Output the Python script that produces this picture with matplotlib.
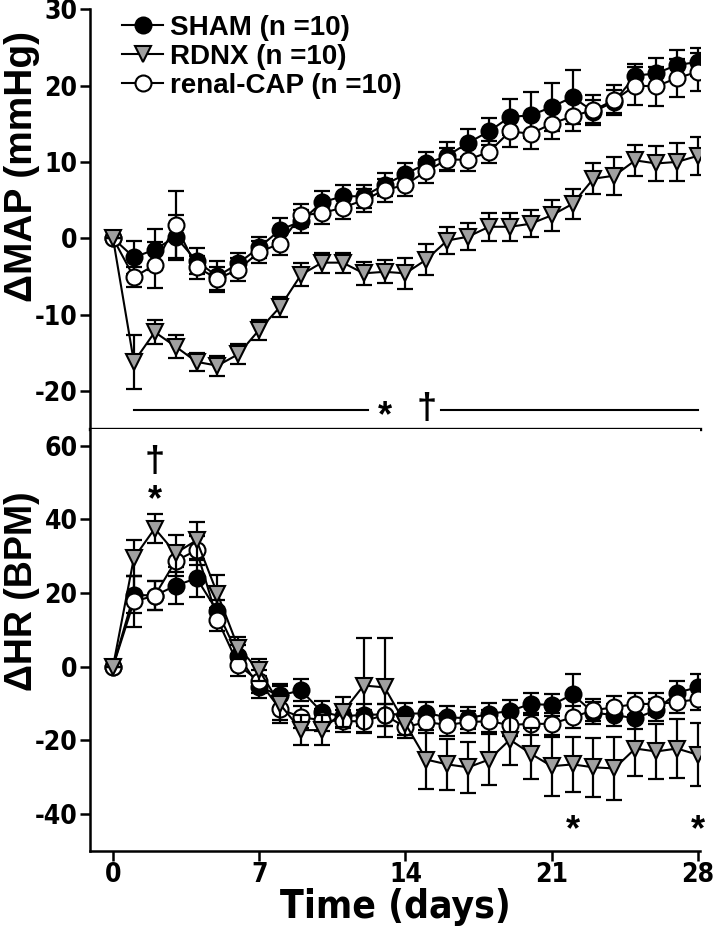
import matplotlib
matplotlib.use("Agg")
import matplotlib.pyplot as plt
from matplotlib import font_manager
import numpy as np

plt.rcParams["axes.unicode_minus"] = False

WIDE = ["Liberation Sans", "DejaVu Sans"]
# condensed face for ticks / x label, if one is installed
_fonts = font_manager.fontManager.ttflist
if any(f.name == "Liberation Sans Narrow" for f in _fonts):
    NARROW = dict(family=["Liberation Sans Narrow", "Liberation Sans"], stretch="normal")
elif any(f.name == "DejaVu Sans" and str(f.stretch) in ("condensed", "semi-condensed") for f in _fonts):
    NARROW = dict(family=["DejaVu Sans"], stretch="condensed")
else:
    NARROW = dict(family=WIDE, stretch="normal")

days = np.arange(29)

# delta MAP (mmHg)
map_sham = [0, -2.5, -1.5, 0.2, -3.0, -5.0, -3.3, -1.2, 1.1, 2.2, 4.7, 5.5, 5.5, 7.0, 8.4,
            9.8, 10.8, 12.5, 14.0, 15.9, 16.1, 17.2, 18.5, 16.6, 17.9, 21.3, 21.6, 22.7, 23.1]
map_sham_sem = [0, 2.2, 2.7, 2.8, 1.7, 2.0, 1.4, 1.4, 1.5, 1.5, 1.5, 1.5, 1.5, 1.5, 1.5,
                1.5, 1.8, 1.8, 1.8, 2.4, 3.0, 3.2, 3.5, 1.5, 1.5, 1.5, 2.0, 2.0, 1.8]
map_rdnx = [0, -16.2, -12.3, -14.2, -16.2, -16.7, -15.2, -12.0, -9.0, -4.8, -3.2, -3.2, -4.6, -4.4, -4.6,
            -2.8, -0.3, 0.2, 1.5, 1.5, 1.9, 3.0, 4.5, 7.8, 8.2, 10.2, 9.8, 10.0, 10.8]
map_rdnx_sem = [0, 3.5, 1.6, 1.5, 1.2, 1.3, 1.3, 1.3, 1.3, 1.5, 1.3, 1.3, 1.5, 1.5, 2.0,
                2.0, 1.8, 1.8, 1.8, 1.8, 1.8, 2.0, 2.0, 2.0, 2.5, 2.0, 2.3, 2.5, 2.5]
map_cap = [0, -5.1, -3.5, 1.7, -3.8, -5.3, -4.1, -1.8, -0.7, 3.0, 3.3, 4.0, 5.0, 6.3, 7.0,
           8.8, 10.3, 10.3, 11.3, 14.0, 13.7, 15.0, 16.0, 16.8, 18.1, 20.0, 19.9, 21.0, 21.8]
map_cap_sem = [0, 1.3, 3.0, 4.5, 1.5, 1.5, 1.5, 1.5, 1.5, 1.5, 1.5, 1.5, 1.5, 1.5, 1.5,
               1.5, 1.5, 1.5, 1.5, 2.0, 2.0, 2.0, 2.0, 2.0, 2.0, 2.5, 2.6, 2.5, 2.5]

# delta HR (BPM)
hr_sham = [0, 19.5, 19.3, 22.0, 24.0, 15.0, 3.0, -5.5, -7.8, -6.4, -12.3, -13.5, -13.0, -13.0, -12.8,
           -12.6, -13.7, -14.0, -12.8, -12.0, -10.1, -10.4, -7.5, -12.5, -13.1, -14.0, -11.8, -7.0, -5.6]
hr_sham_sem = [0, 5.0, 4.0, 5.0, 5.0, 3.0, 3.0, 3.0, 3.0, 3.0, 3.0, 3.0, 3.0, 3.0, 3.0,
               3.0, 3.0, 3.0, 3.0, 3.0, 3.0, 3.0, 5.6, 3.0, 3.0, 3.0, 3.0, 3.0, 3.7]
hr_rdnx = [0, 29.5, 37.5, 30.8, 34.3, 19.8, 5.1, -1.0, -10.2, -17.2, -17.2, -12.3, -5.1, -5.6, -15.5,
           -25.2, -26.5, -27.3, -25.2, -19.8, -23.6, -27.0, -26.5, -27.3, -27.6, -22.2, -23.0, -22.2, -23.9]
hr_rdnx_sem = [0, 5.0, 4.0, 5.0, 5.0, 5.0, 3.0, 3.0, 5.0, 4.0, 4.0, 4.0, 13.0, 13.5, 3.0,
               8.0, 7.0, 7.0, 7.0, 7.0, 7.0, 8.0, 7.5, 8.0, 8.5, 7.5, 7.5, 8.0, 8.5]
hr_cap = [0, 17.7, 19.3, 28.7, 31.6, 12.8, 0.5, -4.0, -11.5, -13.7, -14.5, -14.8, -14.8, -13.1, -16.4,
          -15.0, -15.8, -15.0, -14.8, -15.8, -15.5, -15.5, -13.7, -11.8, -11.0, -10.1, -10.1, -9.6, -8.8]
hr_cap_sem = [0, 7.0, 4.0, 4.0, 4.0, 3.0, 3.0, 3.0, 3.0, 3.0, 3.0, 3.0, 3.0, 3.0, 3.0,
              3.0, 3.0, 3.0, 3.0, 3.0, 3.0, 3.0, 3.0, 3.0, 3.0, 3.0, 3.0, 3.0, 3.0]

labels = ["SHAM (n =10)", "RDNX (n =10)", "renal-CAP (n =10)"]
x_ticks = [0, 7, 14, 21, 28]
map_ticks = [-20, -10, 0, 10, 20, 30]
hr_ticks = [-40, -20, 0, 20, 40, 60]

# significance marks
map_bar_y = -22.5
map_bar_left = (1, 12.2)
map_bar_right = (15.7, 28)
map_star_day, map_dagger_day = 13, 15
hr_top_day, hr_dagger_y, hr_star_y = 2, 55.5, 47
hr_low_star_days, hr_low_star_y = [22, 28], -42.5

W, H = 713, 931
fig = plt.figure(figsize=(W / 100, H / 100), dpi=100)
ax1 = fig.add_axes([90 / W, 1 - 429 / H, 610 / W, (429 - 9.3) / H])
ax2 = fig.add_axes([90 / W, 1 - 851 / H, 610 / W, (851 - 429) / H])

styles = [
    dict(marker="o", mfc="black", zorder=3),
    dict(marker="v", mfc="#a0a0a0", zorder=5),
    dict(marker="o", mfc="white", zorder=4),
]


def draw_series(ax, series, with_labels):
    for (vals, sem), st, lab in zip(series, styles, labels):
        ax.errorbar(days, vals, yerr=sem, fmt="none", ecolor="black", elinewidth=1.6,
                    capsize=5.5, capthick=1.6, zorder=st["zorder"] - 0.5)
        ax.plot(days, vals, color="black", lw=1.5, marker=st["marker"], ms=11.5,
                mfc=st["mfc"], mec="black", mew=1.5, zorder=st["zorder"],
                label=lab if with_labels else None)


draw_series(ax1, [(map_sham, map_sham_sem), (map_rdnx, map_rdnx_sem), (map_cap, map_cap_sem)], True)
draw_series(ax2, [(hr_sham, hr_sham_sem), (hr_rdnx, hr_rdnx_sem), (hr_cap, hr_cap_sem)], False)

for ax in (ax1, ax2):
    ax.set_xlim(-1.1, 28.1)
    for s in ("top", "right"):
        ax.spines[s].set_visible(False)
    ax.spines["left"].set_linewidth(1.8)
    ax.tick_params(axis="y", direction="out", length=7, width=1.8, pad=2)

ax1.set_ylim(-25, 30)
ax1.set_yticks(map_ticks)
ax1.set_xticks([])
ax1.spines["bottom"].set_linewidth(2.4)

ax2.set_ylim(-50, 64.5)
ax2.set_yticks(hr_ticks)
ax2.set_xticks(x_ticks)
ax2.spines["bottom"].set_linewidth(1.8)
ax2.tick_params(axis="x", direction="out", length=7, width=1.8, pad=1)

for ax in (ax1, ax2):
    for t in ax.get_yticklabels() + ax.get_xticklabels():
        t.set_fontfamily(NARROW["family"])
        t.set_fontstretch(NARROW["stretch"])
        t.set_fontweight("bold")
        t.set_fontsize(19)

ax2.set_xlabel("Time (days)", fontfamily=NARROW["family"], fontstretch=NARROW["stretch"],
               fontweight="bold", fontsize=28, labelpad=0)
fig.text(22 / W, 1 - 166 / H, "ΔMAP (mmHg)", rotation=90, ha="center", va="center",
         fontfamily=WIDE, fontweight="bold", fontsize=28)
fig.text(22 / W, 1 - 591 / H, "ΔHR (BPM)", rotation=90, ha="center", va="center",
         fontfamily=WIDE, fontweight="bold", fontsize=27)

# significance bars and symbols
ax1.plot(map_bar_left, [map_bar_y, map_bar_y], color="black", lw=1.5)
ax1.plot(map_bar_right, [map_bar_y, map_bar_y], color="black", lw=1.5)
sym = dict(ha="center", va="center", fontweight="bold", fontfamily=WIDE, fontsize=26)
ax1.text(map_star_day, map_bar_y - 0.9, "*", **sym)
ax1.text(map_dagger_day, map_bar_y, "†", **sym)
ax2.text(hr_top_day, hr_dagger_y, "†", **sym)
ax2.text(hr_top_day, hr_star_y - 2, "*", **sym)
for d in hr_low_star_days:
    ax2.text(d, hr_low_star_y - 2, "*", **sym)

ax1.legend(loc="upper left", bbox_to_anchor=(0.035, 1.013), frameon=False,
           handlelength=1.45, handletextpad=0.25, labelspacing=0.1, borderaxespad=0,
           prop=dict(family=WIDE, weight="bold", size=20))

fig.savefig("out.png", dpi=100)
